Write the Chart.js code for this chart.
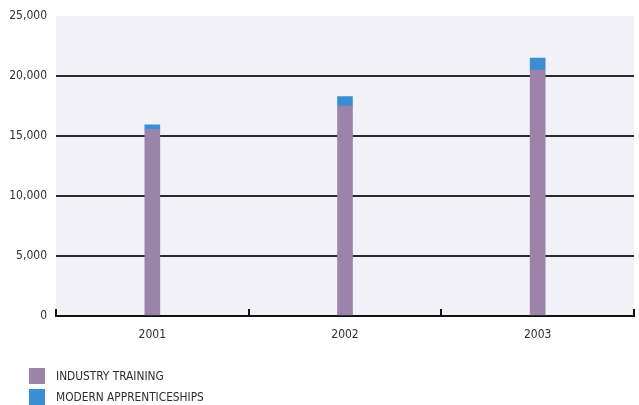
<!DOCTYPE html>
<html>
<head>
<meta charset="utf-8">
<script src="https://cdn.jsdelivr.net/npm/chart.js@4"></script>
<style>
    html, body { margin: 0; padding: 0; background: #fff; }
    #wrap { position: relative; width: 639px; height: 405px; }
    #legend {
        position: absolute; left: 29px; top: 365px;
        font-family: 'Liberation Sans Narrow', 'DejaVu Sans Condensed', sans-serif;
        font-size: 11.8px; color: #2e2e2e;
    }
    #legend div { display: flex; align-items: center; height: 21px; }
    #legend span.box { width: 16px; height: 16px; margin-right: 11px; display: inline-block; }
</style>
</head>
<body>
<div id="wrap">
    <canvas id="training" width="639" height="405"></canvas>
    <div id="legend"></div>
</div>
<script>
const years = ['2001', '2002', '2003'];
const industryTraining = [15550, 17500, 20500];
const modernApprenticeships = [400, 800, 1000];
const yTicks = [0, 5000, 10000, 15000, 20000, 25000];

const fontFamily = "'Liberation Sans Narrow', 'DejaVu Sans Condensed', sans-serif";

// shaded plot area behind the bars
const plotBackground = {
    id: 'plotBackground',
    beforeDraw(chart) {
        const { ctx, chartArea: a } = chart;
        ctx.save();
        ctx.fillStyle = '#f2f1f7';
        ctx.fillRect(a.left, a.top, a.right - a.left, a.bottom - a.top);
        ctx.restore();
    }
};

// small upward ticks between the year groups
const boundaryTicks = {
    id: 'boundaryTicks',
    afterDraw(chart) {
        const { ctx, chartArea: a, scales } = chart;
        ctx.save();
        ctx.strokeStyle = '#111';
        ctx.lineWidth = 2;
        for (let i = 0; i <= years.length; i++) {
            const x = Math.round(scales.x.getPixelForValue(i - 0.5));
            ctx.beginPath();
            ctx.moveTo(x, a.bottom);
            ctx.lineTo(x, a.bottom - 7);
            ctx.stroke();
        }
        ctx.restore();
    }
};

const training = document.getElementById('training').getContext('2d');

const chart = new Chart(training, {
    type: 'bar',
    data: {
        labels: years,
        datasets: [
            {
                label: 'INDUSTRY TRAINING',
                data: industryTraining,
                backgroundColor: '#9b83aa',
            },
            {
                label: 'MODERN APPRENTICESHIPS',
                data: modernApprenticeships,
                backgroundColor: '#3a8ed3',
            }
        ]
    },
    options: {
        responsive: false,
        animation: false,
        layout: {
            padding: { left: 6, right: 5, top: 9, bottom: 59 }
        },
        datasets: {
            bar: { barThickness: 15, categoryPercentage: 1 }
        },
        scales: {
            x: {
                stacked: true,
                grid: { display: false },
                border: { display: true, color: '#111', width: 2 },
                afterFit(scale) {
                    scale.height = 30;
                },
                ticks: {
                    color: '#2e2e2e',
                    padding: 4,
                    font: { family: fontFamily, size: 12 }
                }
            },
            y: {
                stacked: true,
                min: 0,
                max: 25000,
                afterBuildTicks(scale) {
                    scale.ticks = yTicks.map(v => ({ value: v }));
                },
                afterFit(scale) {
                    scale.width = 50;
                },
                border: { display: false },
                grid: {
                    drawTicks: false,
                    lineWidth: 2,
                    color(c) {
                        if (c.tick.value === 0 || c.tick.value === 25000) return 'rgba(0,0,0,0)';
                        return '#2a2a2a';
                    }
                },
                ticks: {
                    color: '#2e2e2e',
                    padding: 9,
                    font: { family: fontFamily, size: 12 },
                    callback: v => v.toLocaleString('en-US')
                }
            }
        },
        plugins: {
            legend: { display: false },
            tooltip: { enabled: false }
        }
    },
    plugins: [plotBackground, boundaryTicks]
});

// legend stacked vertically under the axis
const legend = document.getElementById('legend');
chart.data.datasets.forEach(ds => {
    const row = document.createElement('div');
    const box = document.createElement('span');
    box.className = 'box';
    box.style.background = ds.backgroundColor;
    row.appendChild(box);
    row.appendChild(document.createTextNode(ds.label));
    legend.appendChild(row);
});
</script>
</body>
</html>
